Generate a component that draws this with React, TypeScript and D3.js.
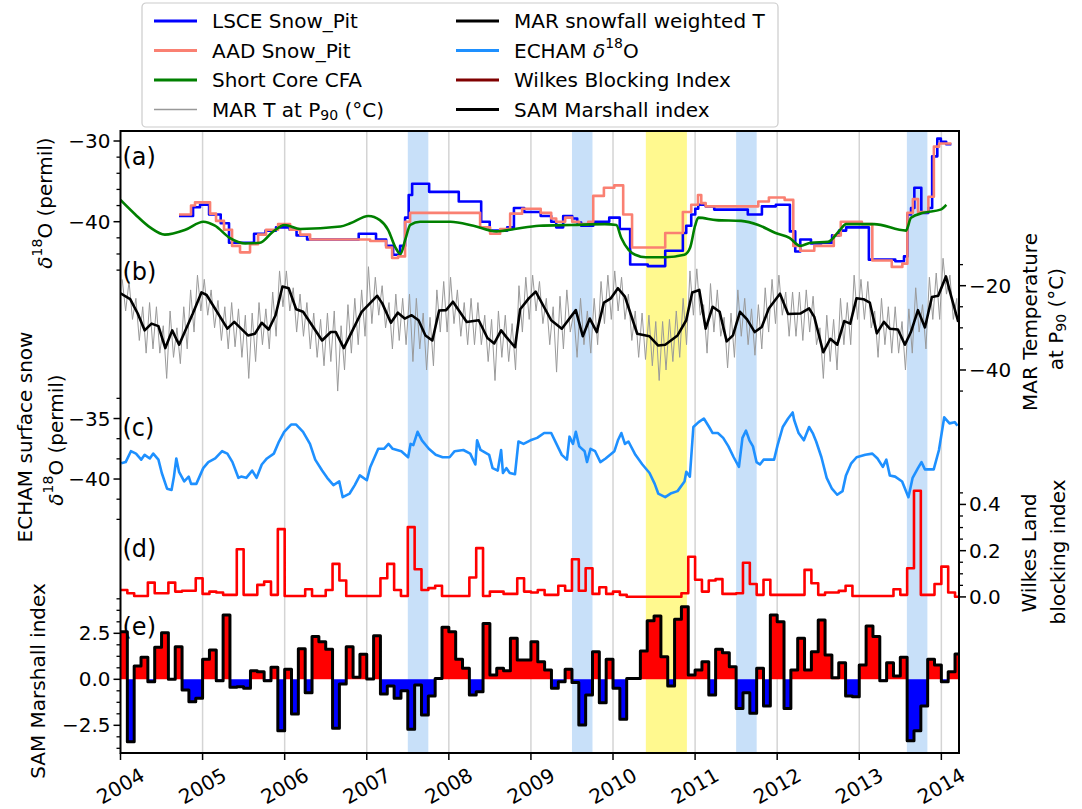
import React, { useEffect, useRef } from 'react';
import * as d3 from 'd3';

const W = 1082;
const H = 809;

// x axis: decimal years
const xLim = [2004, 2014.215];
const yearTicks = d3.range(2004, 2015);

// shaded periods
const blueSpans = [[2007.5, 2007.75], [2009.5, 2009.75], [2011.5, 2011.75], [2013.58, 2013.83]];
const yellowSpans = [[2010.4, 2010.9]];

// ---- (a) snow pits + short core, [year, d18O] (steps start at year) ----
const lsceSnowPit = [
  [2004.713, -39.3], [2004.884, -38.2], [2004.969, -37.9], [2005.079, -39.1], [2005.221, -40.2],
  [2005.322, -42.6], [2005.627, -41.5], [2005.767, -41.1], [2005.895, -40.7], [2006.061, -41.0],
  [2006.145, -41.7], [2006.273, -42.2], [2006.902, -41.5], [2007.113, -42.2], [2007.236, -43.0],
  [2007.321, -44.1], [2007.406, -43.0], [2007.467, -39.5], [2007.511, -36.7], [2007.553, -35.3],
  [2007.760, -36.3], [2008.121, -37.5], [2008.394, -40.0], [2008.498, -41.1], [2008.711, -40.7],
  [2008.793, -38.3], [2008.918, -38.8], [2009.119, -39.3], [2009.247, -40.0], [2009.308, -40.7],
  [2009.393, -39.3], [2009.503, -39.6], [2009.564, -40.1], [2009.612, -40.5], [2009.759, -40.0],
  [2009.954, -39.5], [2010.082, -40.9], [2010.209, -45.3], [2010.423, -45.5], [2010.636, -43.6],
  [2010.851, -41.4], [2010.892, -40.5], [2010.953, -39.1], [2011.002, -38.4], [2011.038, -37.9],
  [2011.129, -38.1], [2011.233, -38.5], [2011.642, -39.1], [2011.814, -38.1], [2011.984, -37.9],
  [2012.155, -41.2], [2012.220, -43.7], [2012.281, -42.2], [2012.412, -42.7], [2012.537, -42.6],
  [2012.669, -41.7], [2012.754, -41.1], [2012.840, -40.7], [2013.117, -44.7], [2013.439, -44.9],
  [2013.545, -44.3], [2013.586, -39.1], [2013.631, -38.3], [2013.671, -35.8], [2013.756, -38.9],
  [2013.842, -38.3], [2013.888, -31.9], [2013.951, -29.7], [2013.994, -30.1], [2014.059, -30.4],
  [2014.122, -30.4],
];

const aadSnowPit = [
  [2004.713, -39.1], [2004.859, -38.0], [2004.908, -37.6], [2005.091, -39.0], [2005.164, -39.9],
  [2005.261, -41.0], [2005.359, -43.0], [2005.456, -43.8], [2005.578, -42.8], [2005.676, -41.6],
  [2005.773, -41.0], [2005.920, -40.3], [2006.066, -41.0], [2006.188, -41.6], [2006.310, -42.2],
  [2007.041, -42.4], [2007.236, -43.2], [2007.309, -44.5], [2007.382, -44.3], [2007.467, -40.0],
  [2007.528, -38.9], [2008.381, -40.7], [2008.503, -41.5], [2008.625, -40.9], [2008.747, -39.0],
  [2008.893, -38.4], [2009.119, -38.9], [2009.247, -39.6], [2009.308, -40.0], [2009.417, -39.5],
  [2009.503, -40.0], [2009.588, -40.3], [2009.698, -40.0], [2009.759, -36.8], [2009.889, -35.8],
  [2010.015, -35.5], [2010.124, -39.1], [2010.232, -43.2], [2010.636, -41.4], [2010.851, -38.8],
  [2010.953, -37.9], [2011.035, -36.7], [2011.075, -37.7], [2011.129, -38.1], [2011.770, -37.5],
  [2011.899, -37.0], [2012.091, -37.3], [2012.196, -43.0], [2012.281, -43.6], [2012.452, -43.0],
  [2012.690, -41.7], [2012.775, -40.0], [2013.032, -40.3], [2013.159, -44.8], [2013.396, -45.6],
  [2013.525, -45.2], [2013.586, -38.9], [2013.653, -37.2], [2013.716, -38.8], [2013.842, -36.9],
  [2013.909, -30.7], [2013.973, -30.3], [2014.122, -30.3],
];

const shortCoreCFA = [
  [2004.00, -37.3], [2004.18, -39.1], [2004.36, -40.7], [2004.54, -41.6], [2004.79, -41.0],
  [2005.01, -40.0], [2005.15, -40.5], [2005.33, -42.0], [2005.52, -42.7], [2005.70, -42.6],
  [2005.85, -41.3], [2006.00, -40.4], [2006.19, -40.9], [2006.68, -40.6], [2006.80, -40.2],
  [2007.02, -39.3], [2007.16, -39.8], [2007.26, -41.0], [2007.35, -43.2], [2007.41, -44.0],
  [2007.47, -42.2], [2007.53, -40.4], [2007.65, -40.0], [2008.02, -40.0], [2008.30, -40.5],
  [2008.58, -41.2], [2008.80, -40.9], [2009.10, -40.5], [2009.50, -40.4], [2009.90, -40.3],
  [2010.04, -40.4], [2010.10, -42.0], [2010.19, -43.5], [2010.27, -44.1], [2010.40, -44.4],
  [2010.64, -44.4], [2010.87, -44.1], [2010.94, -43.2], [2011.00, -40.5], [2011.04, -39.5],
  [2011.26, -39.8], [2011.56, -39.9], [2011.77, -40.4], [2011.98, -41.4], [2012.15, -42.0],
  [2012.28, -43.0], [2012.41, -42.6], [2012.62, -42.5], [2012.75, -41.2], [2012.84, -40.3],
  [2013.18, -40.3], [2013.57, -41.1], [2013.63, -39.5], [2013.78, -38.9], [2013.99, -38.5],
  [2014.06, -37.9],
];

// ---- (b) MAR temperature ----
const marSnowfallT = [
  [2004.000, -21.8], [2004.118, -23.2], [2004.210, -26.6], [2004.294, -30.6], [2004.378, -29.0],
  [2004.462, -29.6], [2004.546, -34.8], [2004.630, -30.6], [2004.714, -34.0], [2004.881, -26.6],
  [2004.986, -21.6], [2005.049, -22.2], [2005.302, -30.2], [2005.386, -28.6], [2005.553, -31.8],
  [2005.637, -31.4], [2005.721, -28.8], [2005.805, -30.4], [2005.889, -27.0], [2005.973, -20.2],
  [2006.049, -20.6], [2006.140, -25.6], [2006.224, -26.2], [2006.456, -33.0], [2006.561, -31.0],
  [2006.623, -31.0], [2006.720, -34.8], [2006.938, -26.2], [2007.126, -22.4], [2007.189, -24.2],
  [2007.294, -28.8], [2007.378, -26.4], [2007.463, -27.8], [2007.547, -27.0], [2007.631, -28.2],
  [2007.715, -31.8], [2007.799, -33.0], [2007.882, -25.9], [2007.967, -25.8], [2008.050, -23.8],
  [2008.218, -28.6], [2008.364, -28.2], [2008.470, -32.4], [2008.553, -33.7], [2008.637, -30.6],
  [2008.701, -32.2], [2008.806, -34.6], [2008.869, -25.6], [2008.974, -23.0], [2009.058, -21.4],
  [2009.247, -28.2], [2009.376, -30.2], [2009.547, -25.8], [2009.632, -32.0], [2009.717, -27.8],
  [2009.803, -31.0], [2009.889, -24.0], [2009.974, -23.0], [2010.060, -20.6], [2010.145, -22.6],
  [2010.295, -31.4], [2010.445, -32.0], [2010.551, -34.2], [2010.636, -34.0], [2010.786, -31.8],
  [2010.892, -28.2], [2010.965, -21.6], [2011.051, -21.0], [2011.129, -30.2], [2011.214, -25.0],
  [2011.299, -26.2], [2011.385, -33.2], [2011.461, -31.8], [2011.547, -26.2], [2011.633, -28.0],
  [2011.727, -31.0], [2011.812, -29.8], [2011.898, -25.4], [2012.034, -21.9], [2012.133, -26.7],
  [2012.281, -26.6], [2012.389, -25.4], [2012.452, -27.4], [2012.561, -35.8], [2012.647, -32.6],
  [2012.732, -34.0], [2012.817, -28.4], [2012.890, -29.0], [2012.966, -23.0], [2013.052, -23.2],
  [2013.128, -24.0], [2013.214, -31.3], [2013.300, -28.6], [2013.372, -30.2], [2013.471, -30.4],
  [2013.556, -34.0], [2013.629, -31.0], [2013.715, -25.8], [2013.800, -29.9], [2013.885, -22.7],
  [2013.962, -22.4], [2014.056, -17.8], [2014.121, -22.6], [2014.206, -28.6],
];

// monthly upper / lower extent of the daily MAR T at P90 (Jan 2004 - Mar 2014)
const marTHigh = [
  -18.5, -19, -23, -25, -24, -25, -29.5, -26, -30, -25, -21, -17.5,
  -18.5, -21, -23.5, -25, -24, -25.5, -27, -26.5, -24, -25.5, -21.5, -16.5,
  -16.5, -20.5, -22, -24, -26.5, -28, -26.5, -26, -29.5, -24.5, -23, -21,
  -15.5, -18, -20, -24, -22, -23, -22, -23, -26.5, -27.5, -21, -19,
  -18, -21, -24, -23, -24, -27, -28, -26, -27, -29, -20, -18,
  -17.5, -19, -23, -25, -22.5, -21, -26.5, -23, -26, -23, -19, -17.5,
  -16.5, -18, -22, -26, -26.5, -27, -28.5, -28.5, -28, -26, -23, -16.5,
  -16, -24.5, -19.5, -21, -27.5, -26.5, -21, -23, -25.5, -24.5, -20.5, -18.5,
  -17.5, -21.5, -21.5, -21.5, -21, -22.5, -30, -27, -28, -23, -24, -17.5,
  -18.5, -19, -26, -23, -25, -25, -28.5, -25.5, -20.5, -24.5, -18, -17,
  -13.5, -17.5, -23,
];
const marTLow = [
  -26, -28, -33, -36, -35, -36, -42, -37, -38.5, -35, -31, -26,
  -27, -30, -33, -35, -34.5, -37, -42, -38, -34, -35, -32, -25,
  -26, -31, -32, -35, -37, -39, -38, -45, -40, -36, -34, -32,
  -29, -27, -30, -35, -33, -34, -38, -35, -40, -39, -31, -31,
  -29, -32, -34, -34, -34, -38, -42.5, -37, -38, -40, -31, -28,
  -26, -29, -34, -40.5, -35, -31, -37, -34, -36, -34, -29, -28,
  -26, -28, -33, -37, -37.5, -39, -42.5, -40, -38, -37, -34, -27,
  -27, -36, -31, -32, -39.5, -37, -32, -34, -36.5, -35, -31, -29,
  -27, -32, -32, -33, -31, -34, -42, -38, -40, -34, -34, -28,
  -28, -30, -37, -34, -36, -36, -40, -36, -31, -35, -28, -28,
  -22, -28, -34,
];

// ---- (c) ECHAM surface snow d18O, [year, value] ----
const echamD18O = [
  [2004.009, -38.7], [2004.063, -38.6], [2004.127, -37.7], [2004.189, -37.9], [2004.252, -38.4],
  [2004.294, -38.0], [2004.357, -38.3], [2004.399, -37.9], [2004.462, -38.4], [2004.503, -39.5],
  [2004.567, -40.8], [2004.622, -40.9], [2004.651, -39.8], [2004.680, -38.3], [2004.713, -39.4],
  [2004.776, -40.2], [2004.831, -39.8], [2004.860, -40.4], [2004.924, -40.4], [2005.008, -39.1],
  [2005.070, -38.6], [2005.154, -38.3], [2005.238, -37.7], [2005.302, -37.9], [2005.364, -38.6],
  [2005.436, -39.9], [2005.469, -39.8], [2005.532, -39.9], [2005.604, -39.3], [2005.658, -39.9],
  [2005.721, -38.8], [2005.784, -38.3], [2005.868, -37.9], [2005.931, -36.9], [2005.994, -36.1],
  [2006.078, -35.5], [2006.140, -35.5], [2006.224, -36.1], [2006.308, -37.1], [2006.372, -38.4],
  [2006.456, -39.3], [2006.518, -39.9], [2006.594, -40.5], [2006.665, -40.2], [2006.707, -41.5],
  [2006.791, -41.2], [2006.854, -40.5], [2006.916, -39.7], [2007.001, -40.1], [2007.043, -39.0],
  [2007.140, -37.5], [2007.210, -37.5], [2007.265, -37.1], [2007.316, -37.5], [2007.421, -37.7],
  [2007.504, -38.2], [2007.534, -37.1], [2007.567, -37.2], [2007.619, -36.1], [2007.672, -36.8],
  [2007.756, -37.5], [2007.840, -38.0], [2007.924, -38.2], [2008.009, -38.2], [2008.071, -37.7],
  [2008.177, -37.6], [2008.260, -37.9], [2008.323, -38.8], [2008.344, -36.8], [2008.386, -37.6],
  [2008.491, -38.0], [2008.533, -39.1], [2008.596, -39.3], [2008.637, -37.6], [2008.659, -39.5],
  [2008.701, -39.1], [2008.742, -39.5], [2008.806, -39.6], [2008.848, -36.9], [2008.910, -37.1],
  [2008.994, -36.8], [2009.076, -36.6], [2009.161, -36.2], [2009.247, -36.2], [2009.311, -37.1],
  [2009.376, -38.0], [2009.439, -38.4], [2009.470, -36.5], [2009.512, -37.1], [2009.547, -36.1],
  [2009.589, -37.3], [2009.654, -37.7], [2009.683, -38.6], [2009.726, -37.5], [2009.782, -37.7],
  [2009.846, -38.6], [2009.910, -38.3], [2010.017, -37.7], [2010.060, -36.8], [2010.102, -36.2],
  [2010.145, -37.1], [2010.188, -36.9], [2010.273, -38.0], [2010.358, -38.8], [2010.445, -39.5],
  [2010.508, -40.4], [2010.551, -41.2], [2010.636, -41.5], [2010.701, -41.2], [2010.786, -41.0],
  [2010.871, -40.2], [2010.893, -39.4], [2010.936, -39.8], [2010.979, -35.7], [2011.043, -35.3],
  [2011.107, -35.0], [2011.171, -35.7], [2011.214, -36.2], [2011.277, -36.2], [2011.342, -36.6],
  [2011.406, -37.3], [2011.470, -38.2], [2011.534, -39.0], [2011.577, -36.6], [2011.620, -36.0],
  [2011.662, -36.8], [2011.705, -37.3], [2011.748, -38.6], [2011.790, -38.8], [2011.834, -38.4],
  [2011.962, -38.4], [2012.005, -37.2], [2012.068, -35.7], [2012.133, -35.0], [2012.189, -34.5],
  [2012.206, -35.1], [2012.261, -36.2], [2012.325, -36.8], [2012.389, -35.7], [2012.433, -36.2],
  [2012.475, -36.9], [2012.539, -38.2], [2012.603, -39.9], [2012.667, -40.8], [2012.731, -41.3],
  [2012.796, -41.0], [2012.838, -39.7], [2012.902, -38.7], [2012.967, -38.2], [2013.074, -38.0],
  [2013.159, -37.9], [2013.222, -38.3], [2013.287, -39.0], [2013.330, -38.4], [2013.372, -39.7],
  [2013.437, -39.8], [2013.522, -40.2], [2013.599, -41.5], [2013.650, -39.9], [2013.715, -39.1],
  [2013.758, -38.6], [2013.800, -39.2], [2013.907, -39.2], [2013.971, -37.6], [2014.035, -34.9],
  [2014.099, -35.4], [2014.163, -35.3], [2014.197, -35.6],
];

// ---- (d) Wilkes Land blocking index, monthly Jan 2004 - Mar 2014 ----
const wilkesBlocking = [
  0.030, 0.016, 0.004, 0.004, 0.062, 0.016, 0.016, 0.062, 0.023, 0.027, 0.027, 0.081,
  0.013, 0.023, 0.019, 0.009, 0.009, 0.206, 0.009, 0.009, 0.052, 0.066, 0.009, 0.293,
  0.004, 0.004, 0.004, 0.033, 0.004, 0.004, 0.030, 0.143, 0.071, 0.004, 0.004, 0.004,
  0.004, 0.004, 0.081, 0.143, 0.030, 0.004, 0.302, 0.120, 0.030, 0.038, 0.048, 0.004,
  0.004, 0.004, 0.004, 0.084, 0.211, 0.004, 0.023, 0.023, 0.013, 0.013, 0.081, 0.023,
  0.019, 0.030, 0.009, 0.009, 0.048, 0.027, 0.163, 0.027, 0.124, 0.013, 0.042, 0.013,
  0.023, 0.009, 0.001, 0.001, 0.001, 0.001, 0.001, 0.001, 0.001, 0.001, 0.016, 0.174,
  0.074, 0.023, 0.071, 0.077, 0.013, 0.013, 0.016, 0.148, 0.056, 0.009, 0.074, 0.009,
  0.009, 0.009, 0.009, 0.009, 0.117, 0.059, 0.009, 0.019, 0.019, 0.026, 0.048, 0.004,
  0.004, 0.004, 0.004, 0.004, 0.004, 0.033, 0.009, 0.124, 0.459, 0.009, 0.009, 0.056,
  0.131, 0.019, 0.001,
];

// ---- (e) SAM Marshall index, monthly Jan 2004 - Mar 2014 ----
const samMarshall = [
  2.59, -3.39, 0.72, 1.20, -0.13, 1.74, 2.53, 0.0, 1.77, -0.58, -1.22, -1.03,
  1.09, 1.59, -0.08, 3.49, -0.43, -0.40, -0.49, 0.47, 0.41, -0.08, 0.65, -2.79,
  0.54, -1.89, 1.66, -0.73, 2.32, 2.04, 1.63, -2.66, -0.26, 1.77, 0.11, 1.36,
  0.02, 2.37, -0.80, -0.36, -1.03, -0.62, -2.72, -0.31, -1.94, -0.91, 0.05, 2.83,
  2.59, 1.09, 0.60, -0.85, -0.67, 3.04, 0.23, 0.60, 0.47, 2.23, 1.05, 1.05,
  2.04, 0.96, 0.51, -0.49, -0.13, 0.54, -0.18, -2.48, -0.85, 1.50, -1.27, 1.09,
  -0.49, -2.17, 0.05, 0.05, 1.54, 3.18, 3.44, 1.23, -0.36, 3.26, 3.95, 0.23,
  0.51, 0.96, -0.85, 1.63, 1.45, 0.68, -1.58, -0.73, -1.85, 0.60, -1.45, 3.49,
  3.13, -1.58, 0.51, 2.23, 0.51, 1.50, 3.22, 1.32, 0.09, 0.90, -0.91, -0.95,
  0.78, 2.90, 2.32, -0.08, 0.90, 0.18, 1.20, -3.34, -2.79, -1.45, 1.09, 0.78,
  -0.13, 0.41, 1.38,
];

// y limits of each twin axis (all share the full frame height)
const yLimA = [-105.84, -28.76];
const yLimB = [-130.87, 16.7];
const yLimC = [-62.64, -11.24];
const yLimD = [-0.675, 2.015];
const yLimE = [-4.005, 29.8];

const legendItems = [
  { label: 'LSCE Snow_Pit', color: '#0000ff', w: 3 },
  { label: 'AAD Snow_Pit', color: '#fa8072', w: 3 },
  { label: 'Short Core CFA', color: '#008000', w: 3 },
  { label: 'MAR T at P|90| (°C)', color: '#999999', w: 1.5 },
  { label: 'MAR snowfall weighted T', color: '#000000', w: 3 },
  { label: 'ECHAM δ^18^O', color: '#1e90ff', w: 3 },
  { label: 'Wilkes Blocking Index', color: '#800000', w: 3 },
  { label: 'SAM Marshall index', color: '#000000', w: 3 },
];

const FONT = 'DejaVu Sans';
const FS = 20;   // tick labels
const LFS = 20;  // legend and axis titles

// writes "δ^18^O" (super) and "P|90|" (sub) into a text element
function richText(sel: any, str: string, fs: number) {
  const parts = str.split(/(\^[^^]+\^|\|[^|]+\|)/).filter((s) => s.length);
  const small = Math.round(fs * 0.7);
  let pending = 0;
  const span = (txt: string) => {
    const t = sel.append('tspan').text(txt);
    if (pending) { t.attr('dy', pending); pending = 0; }
    return t;
  };
  parts.forEach((p) => {
    if (p.startsWith('^')) {
      span(p.slice(1, -1)).attr('font-size', small).attr('dy', -8);
      pending = 8;
    } else if (p.startsWith('|')) {
      span(p.slice(1, -1)).attr('font-size', small).attr('dy', 5);
      pending = -5;
    } else {
      const i = p.indexOf('δ');
      if (i >= 0) {
        if (i > 0) span(p.slice(0, i));
        span('δ').attr('font-style', 'italic');
        if (p.length > i + 1) span(p.slice(i + 1));
      } else {
        span(p);
      }
    }
  });
}

function App() {
  const ref = useRef<SVGSVGElement>(null);

  useEffect(() => {
    const svg = d3.select(ref.current);
    svg.selectAll('*').remove();

    const left = 120.5, right = 959, top = 131, bottom = 753;

    const x = d3.scaleLinear().domain(xLim).range([left, right]);
    const ya = d3.scaleLinear().domain(yLimA).range([bottom, top]);
    const yb = d3.scaleLinear().domain(yLimB).range([bottom, top]);
    const yc = d3.scaleLinear().domain(yLimC).range([bottom, top]);
    const yd = d3.scaleLinear().domain(yLimD).range([bottom, top]);
    const ye = d3.scaleLinear().domain(yLimE).range([bottom, top]);

    svg.append('rect').attr('width', W).attr('height', H).attr('fill', '#fff');

    svg.append('defs').append('clipPath').attr('id', 'plotclip')
      .append('rect').attr('x', left).attr('y', top)
      .attr('width', right - left).attr('height', bottom - top);

    const plot = svg.append('g').attr('clip-path', 'url(#plotclip)');

    // year grid
    plot.selectAll('.grid').data(yearTicks.slice(1)).enter().append('line')
      .attr('x1', (d) => x(d)).attr('x2', (d) => x(d))
      .attr('y1', top).attr('y2', bottom)
      .attr('stroke', '#d4d4d4').attr('stroke-width', 1.5);

    // shaded periods
    plot.selectAll('.bspan').data(blueSpans).enter().append('rect')
      .attr('x', (d) => x(d[0])).attr('width', (d) => x(d[1]) - x(d[0]))
      .attr('y', top).attr('height', bottom - top).attr('fill', '#c8e0f9');
    plot.selectAll('.yspan').data(yellowSpans).enter().append('rect')
      .attr('x', (d) => x(d[0])).attr('width', (d) => x(d[1]) - x(d[0]))
      .attr('y', top).attr('height', bottom - top).attr('fill', '#fff98f');

    const lineOf = (ys: any, curve: any) => d3.line<number[]>()
      .x((d) => x(d[0])).y((d) => ys(d[1])).curve(curve);

    const drawPath = (data: number[][], ys: any, curve: any, color: string, w: number) =>
      plot.append('path').datum(data).attr('d', lineOf(ys, curve))
        .attr('fill', 'none').attr('stroke', color).attr('stroke-width', w)
        .attr('stroke-linejoin', 'round');

    // monthly -> [year, value], with closing edge for steps
    const monthly = (vals: number[]) => {
      const pts = vals.map((v, i) => [2004 + i / 12, v]);
      pts.push([2004 + vals.length / 12, vals[vals.length - 1]]);
      return pts;
    };

    // (a)
    drawPath(lsceSnowPit, ya, d3.curveStepAfter, '#0000ff', 2.6);
    drawPath(aadSnowPit, ya, d3.curveStepAfter, '#fa8072', 2.6);
    drawPath(shortCoreCFA, ya, d3.curveMonotoneX, '#008000', 2.6);

    // (b)
    const greyPts: number[][] = [];
    marTHigh.forEach((hi, i) => {
      greyPts.push([2004 + (i + 0.25) / 12, hi]);
      greyPts.push([2004 + (i + 0.75) / 12, marTLow[i]]);
    });
    drawPath(greyPts, yb, d3.curveLinear, '#9a9a9a', 1);
    drawPath(marSnowfallT, yb, d3.curveLinear, '#000000', 2.6);

    // (c)
    drawPath(echamD18O, yc, d3.curveLinear, '#1e90ff', 2.6);

    // (d)
    drawPath(monthly(wilkesBlocking), yd, d3.curveStepAfter, '#ff0000', 2.6);

    // (e)
    const sam = monthly(samMarshall);
    const areaOf = (f: (v: number) => number) => d3.area<number[]>()
      .x((d) => x(d[0])).y0(ye(0)).y1((d) => ye(f(d[1]))).curve(d3.curveStepAfter);
    plot.append('path').datum(sam).attr('d', areaOf((v) => Math.max(v, 0))).attr('fill', '#ff0000');
    plot.append('path').datum(sam).attr('d', areaOf((v) => Math.min(v, 0))).attr('fill', '#0000ff');
    drawPath(sam, ye, d3.curveStepAfter, '#000000', 3);

    // frame
    svg.append('rect').attr('x', left).attr('y', top)
      .attr('width', right - left).attr('height', bottom - top)
      .attr('fill', 'none').attr('stroke', '#000').attr('stroke-width', 2);

    // x ticks
    const xt = svg.append('g');
    yearTicks.forEach((yr) => {
      xt.append('line').attr('x1', x(yr)).attr('x2', x(yr))
        .attr('y1', bottom).attr('y2', bottom + 7)
        .attr('stroke', '#000').attr('stroke-width', 1.5);
      xt.append('text')
        .attr('transform', `translate(${x(yr)},${bottom + 33}) rotate(-30)`)
        .attr('text-anchor', 'middle').attr('dominant-baseline', 'central')
        .attr('font-family', FONT).attr('font-size', FS).text(String(yr));
    });

    // y ticks for each twin axis
    const yAxis = (ys: any, majors: number[], minors: number[], side: string, fmt: (n: number) => string) => {
      const g = svg.append('g');
      const x0 = side === 'left' ? left : right;
      const dir = side === 'left' ? -1 : 1;
      minors.forEach((v) => {
        g.append('line').attr('x1', x0).attr('x2', x0 + dir * 4)
          .attr('y1', ys(v)).attr('y2', ys(v)).attr('stroke', '#000').attr('stroke-width', 1.3);
      });
      majors.forEach((v) => {
        g.append('line').attr('x1', x0).attr('x2', x0 + dir * 7)
          .attr('y1', ys(v)).attr('y2', ys(v)).attr('stroke', '#000').attr('stroke-width', 1.5);
        g.append('text').attr('x', x0 + dir * 10).attr('y', ys(v))
          .attr('text-anchor', side === 'left' ? 'end' : 'start')
          .attr('dominant-baseline', 'central')
          .attr('font-family', FONT).attr('font-size', FS).text(fmt(v));
      });
    };
    const fInt = d3.format('d');
    const f1 = d3.format('.1f');
    yAxis(ya, [-30, -40], [-32, -34, -36, -38, -42, -44, -46], 'left', fInt);
    yAxis(yc, [-35, -40], [-100 / 3, -110 / 3, -115 / 3, -125 / 3, -130 / 3], 'left', fInt);
    yAxis(ye, [-2.5, 0, 2.5], [-3.75, -3.125, -1.875, -1.25, -0.625, 0.625, 1.25, 1.875, 3.125, 3.75, 4.375], 'left', f1);
    yAxis(yb, [-20, -40], [-15, -25, -30, -35, -45], 'right', fInt);
    yAxis(yd, [0, 0.2, 0.4], [0.05, 0.1, 0.15, 0.25, 0.3, 0.35, 0.45], 'right', f1);

    // panel letters
    const letters = [['(a)', 157], ['(b)', 272], ['(c)', 428], ['(d)', 549], ['(e)', 627]];
    letters.forEach(([t, yy]) => {
      svg.append('text').attr('x', left + 2).attr('y', yy as number)
        .attr('dominant-baseline', 'central')
        .attr('font-family', FONT).attr('font-size', 24).text(t as string);
    });

    // axis titles
    const vlabel = (str: string, cx: number, cy: number) => {
      const t = svg.append('text')
        .attr('transform', `translate(${cx},${cy}) rotate(-90)`)
        .attr('text-anchor', 'middle').attr('dominant-baseline', 'central')
        .attr('font-family', FONT).attr('font-size', LFS);
      richText(t, str, LFS);
    };
    vlabel('δ^18^O (permil)', 45, 203);
    vlabel('ECHAM surface snow', 25, 437);
    vlabel('δ^18^O (permil)', 56, 440);
    vlabel('SAM Marshall index', 38, 681);
    vlabel('MAR Temperature', 1030, 322);
    vlabel('at P|90| (°C)', 1056, 319);
    vlabel('Wilkes Land', 1029, 553);
    vlabel('blocking index', 1058, 552);

    // legend
    const lg = svg.append('g');
    lg.append('rect').attr('x', 142).attr('y', 3).attr('width', 636).attr('height', 124)
      .attr('rx', 4).attr('fill', '#fff').attr('stroke', '#cccccc').attr('stroke-width', 1.2);
    legendItems.forEach((item, i) => {
      const col = Math.floor(i / 4);
      const row = i % 4;
      const hx = col === 0 ? 154 : 456;
      const yy = 21 + row * 29.5;
      lg.append('line').attr('x1', hx).attr('x2', hx + 43).attr('y1', yy).attr('y2', yy)
        .attr('stroke', item.color).attr('stroke-width', item.w);
      const t = lg.append('text').attr('x', hx + 58).attr('y', yy)
        .attr('dominant-baseline', 'central')
        .attr('font-family', FONT).attr('font-size', LFS);
      richText(t, item.label, LFS);
    });
  }, []);

  return (
    <svg ref={ref} width={W} height={H}
      style={{ position: 'absolute', left: 0, top: 0, display: 'block' }} />
  );
}

export default App;
